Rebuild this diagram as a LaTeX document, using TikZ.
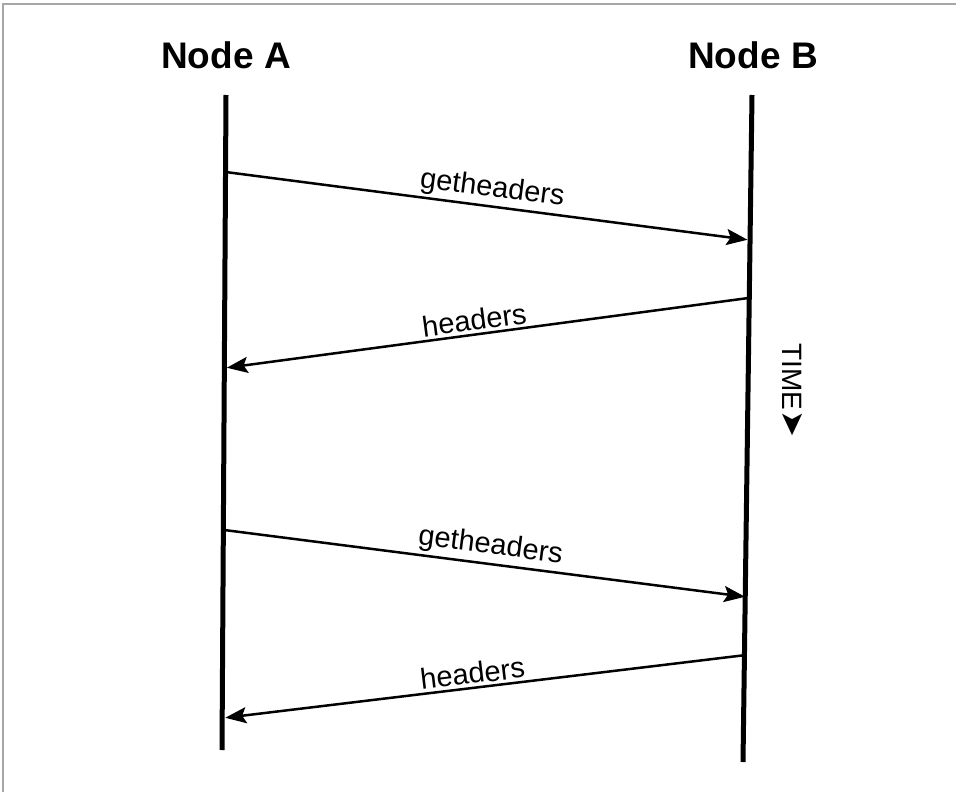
\documentclass[tikz,border=0pt]{standalone}
\usepackage{fontspec}
\setmainfont{Liberation Sans}
\newfontfamily\symfont{DejaVu Sans}
\usetikzlibrary{arrows.meta}

\tikzset{
  lifelabel/.style={font=\bfseries\fontsize{37}{40}\selectfont, inner sep=0pt},
  lifeline/.style={line width=5pt},
  msg/.style={line width=2.5pt, -{Stealth[length=21pt, width=16pt, inset=4pt]}, shorten >=2pt},
  msglabel/.style={font=\fontsize{29}{31}\selectfont, sloped, above, inner sep=1pt, outer sep=3pt}
}

\begin{document}
\begin{tikzpicture}[x=1pt, y=-1pt]
  \useasboundingbox (0,0) rectangle (956,792);

  % frame (left and top edge only)
  \draw[gray!70, line width=2pt] (3,792) -- (3,4) -- (956,4);

  % node titles
  \node[lifelabel] (na) at (226,55) {Node A};
  \node[lifelabel] (nb) at (753,55) {Node B};

  % lifelines
  \coordinate (atop) at (226,95);
  \coordinate (abot) at (222,750);
  \coordinate (btop) at (752,95);
  \coordinate (bbot) at (743,762);
  \draw[lifeline] (atop) -- (abot);
  \draw[lifeline] (btop) -- (bbot);

  % message ends on the lifelines
  \coordinate (a1) at (225.5,172);
  \coordinate (b1) at (749.5,240);
  \coordinate (b2) at (748.5,298);
  \coordinate (a2) at (224.8,368);
  \coordinate (a3) at (224.3,530);
  \coordinate (b3) at (747,597);
  \coordinate (b4) at (746,655);
  \coordinate (a4) at (223.3,718);

  % messages
  \draw[msg] (a1) -- (b1) node[msglabel, pos=0.505] (m1) {getheaders};
  \draw[msg] (b2) -- (a2) node[msglabel, pos=0.52] (m2) {headers};
  \draw[msg] (a3) -- (b3) node[msglabel, pos=0.505] (m3) {getheaders};
  \draw[msg] (b4) -- (a4) node[msglabel, pos=0.52] (m4) {headers};

  % time direction
  \node[font=\fontsize{28}{30}\selectfont, rotate=-90, inner sep=0pt] (time) at (793,390) {TIME{\symfont\fontsize{32}{34}\selectfont ➤}};
\end{tikzpicture}
\end{document}
